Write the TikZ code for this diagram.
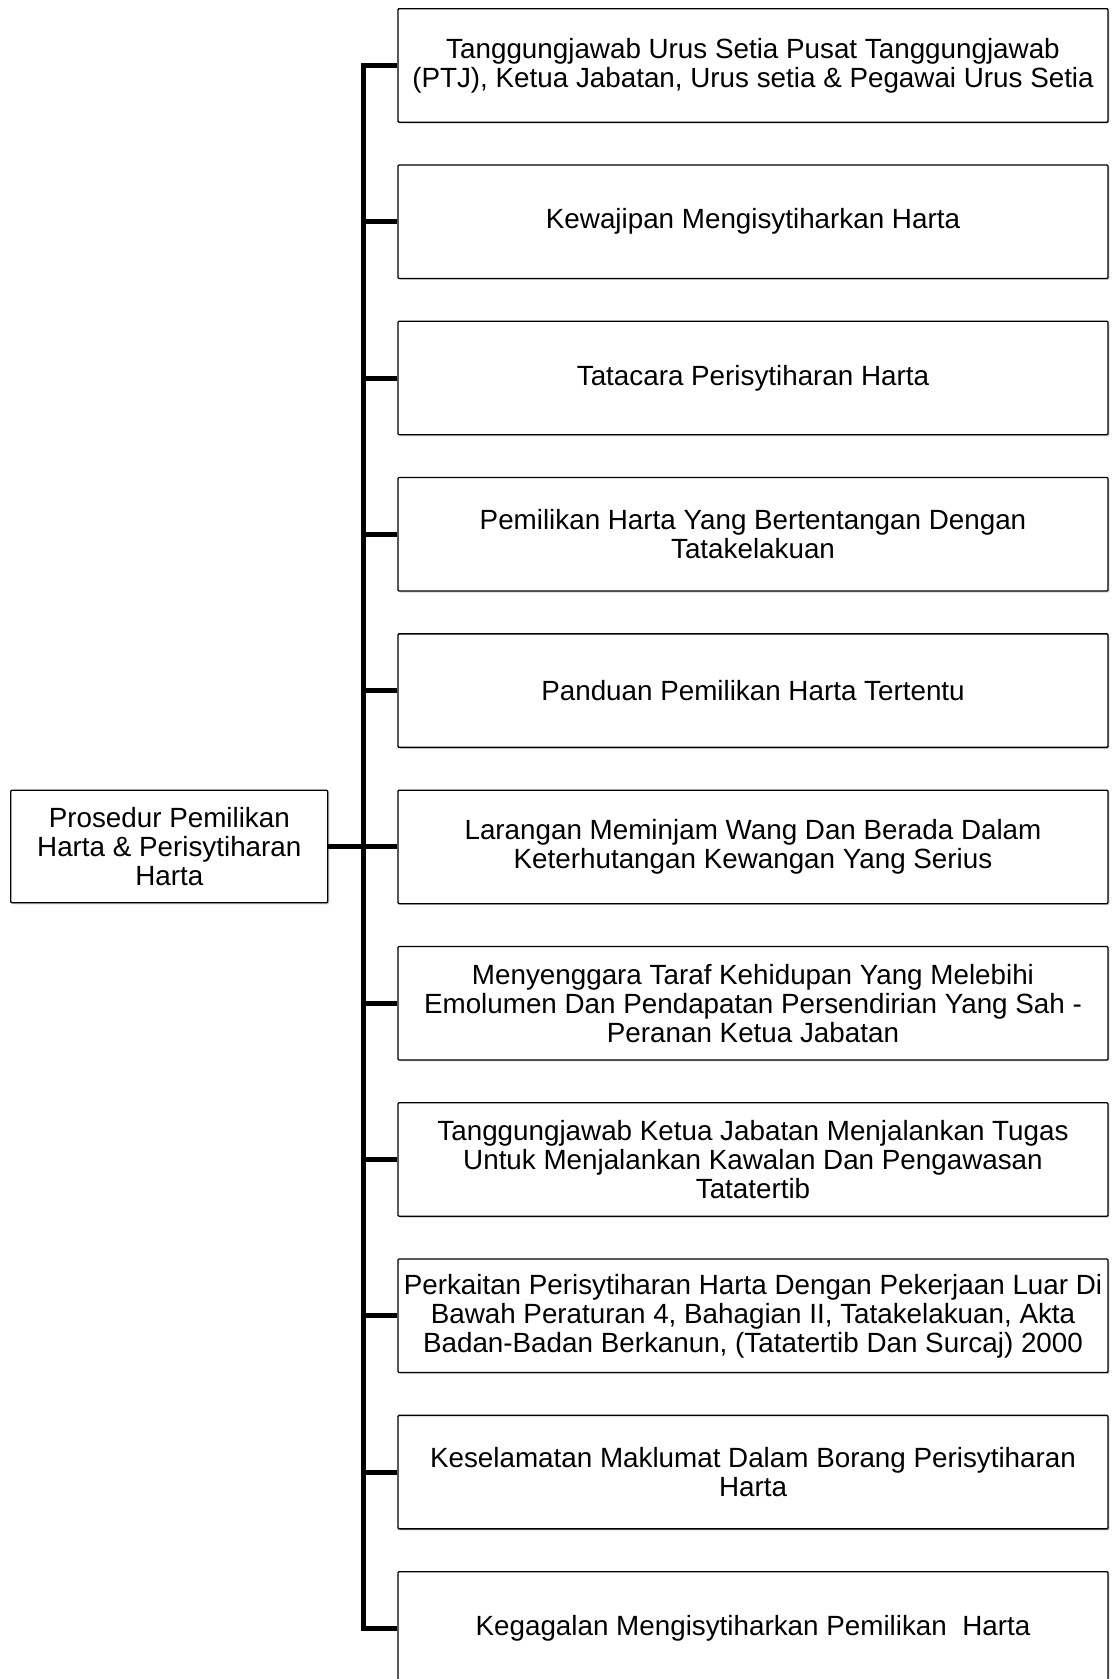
\documentclass[tikz,border=0pt]{standalone}
\usepackage{fontspec}
\setmainfont{Liberation Sans}
\usetikzlibrary{shadows}
\newcommand\boxfont{\fontsize{27.8}{29}\selectfont}
\tikzset{
  box/.style={draw=black, line width=1.3pt, fill=white, rounded corners=1pt,
    inner sep=0pt, align=center, font=\boxfont,
    drop shadow={shadow xshift=1.5pt, shadow yshift=-1.5pt, opacity=0.3}},
  rbox/.style={box, minimum width=710pt, minimum height=113.5pt},
  rootbox/.style={box, minimum width=317pt, minimum height=112.5pt},
  conn/.style={line width=5pt, line join=miter, draw=black}
}
\begin{document}
\begin{tikzpicture}[x=1pt,y=-1pt]
\useasboundingbox (0,0) rectangle (1113,1679);
\clip (0,0) rectangle (1113,1679);
\fill[white] (0,0) rectangle (1113,1679);
\coordinate (trunk) at (363,0);
\node[rootbox] (root) at (169.3,846.5) {Prosedur Pemilikan\\Harta \& Perisytiharan\\Harta};
\node[rbox] (b1) at (753,65.4) {Tanggungjawab Urus Setia Pusat Tanggungjawab\\(PTJ), Ketua Jabatan, Urus setia \& Pegawai Urus Setia};
\node[rbox] (b2) at (753,221.7) {Kewajipan Mengisytiharkan Harta};
\node[rbox] (b3) at (753,378.0) {Tatacara Perisytiharan Harta};
\node[rbox] (b4) at (753,534.3) {Pemilikan Harta Yang Bertentangan Dengan\\Tatakelakuan};
\node[rbox] (b5) at (753,690.6) {Panduan Pemilikan Harta Tertentu};
\node[rbox] (b6) at (753,846.9) {Larangan Meminjam Wang Dan Berada Dalam\\Keterhutangan Kewangan Yang Serius};
\node[rbox] (b7) at (753,1003.2) {Menyenggara Taraf Kehidupan Yang Melebihi\\Emolumen Dan Pendapatan Persendirian Yang Sah -\\Peranan Ketua Jabatan};
\node[rbox] (b8) at (753,1159.5) {Tanggungjawab Ketua Jabatan Menjalankan Tugas\\Untuk Menjalankan Kawalan Dan Pengawasan\\Tatatertib};
\node[rbox] (b9) at (753,1315.8) {Perkaitan Perisytiharan Harta Dengan Pekerjaan Luar Di\\Bawah Peraturan 4, Bahagian II, Tatakelakuan, Akta\\Badan-Badan Berkanun, (Tatatertib Dan Surcaj) 2000};
\node[rbox] (b10) at (753,1472.1) {Keselamatan Maklumat Dalam Borang Perisytiharan\\Harta};
\node[rbox] (b11) at (753,1628.4) {Kegagalan Mengisytiharkan Pemilikan\ \ Harta};
\draw[conn] (b1.west) -- (b1.west -| trunk) -- (b11.west -| trunk) -- (b11.west);
\foreach \b in {b2,b3,b4,b5,b6,b7,b8,b9,b10}
  \draw[conn] (\b.west -| trunk) -- (\b.west);
\draw[conn] (root.east) -- (root.east -| trunk);
\end{tikzpicture}
\end{document}
